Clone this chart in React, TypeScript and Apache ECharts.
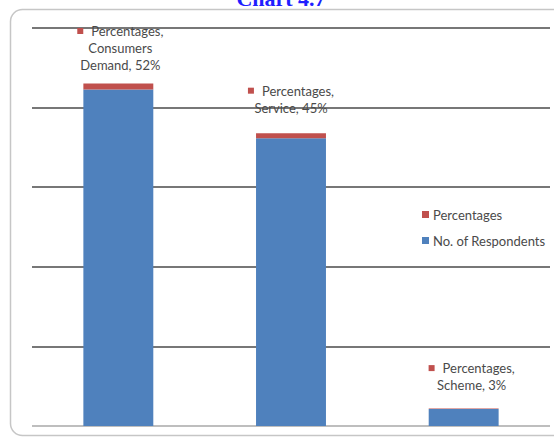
import React, { useEffect, useRef } from "react";
import * as echarts from "echarts";

// Reasons given by respondents, stacked as counts with their share on top
const categories = ["Consumers Demand", "Service", "Scheme"];
const respondents = [29.6, 25.3, 1.5];
const percentages = [0.52, 0.45, 0.03];
const seriesNames = ["No. of Respondents", "Percentages"];
const yMin = 0;
const yMax = 35;
const yStep = 7;

const BLUE = "#4f81bd";
const RED = "#c0504d";
const TEXT = "#4a4a4a";
const FONT = "Lato, 'Liberation Sans', sans-serif";

// per-bar gap between the data label and the top of its stack
const labelDistance = [10, 17, 15];
const labelOffset = [[2, 0], [0, 0], [8, 0]];

export default function App() {
  const ref = useRef<HTMLDivElement>(null);

  useEffect(() => {
    if (!ref.current) return;
    const chart = echarts.init(ref.current, null, { renderer: "svg" });

    const pctLabel = (p: any) => {
      const pct = Math.round(p.value * 100) + "%";
      const nameLines = String(p.name).split(" ");
      const last = nameLines.pop() + ", " + pct;
      const lines = [...nameLines, last].map((l) => `{t|${l}}`);
      return [`{sq|}{p|${p.seriesName},}`, ...lines].join("\n");
    };

    chart.setOption({
      animation: false,
      backgroundColor: "#ffffff",
      textStyle: { fontFamily: FONT },
      graphic: [
        {
          type: "rect",
          z: -10,
          shape: { x: 10.5, y: 9.5, width: 570, height: 426, r: 12 },
          style: { fill: "none", stroke: "#c6c6c6", lineWidth: 1.5 },
        },
        {
          type: "text",
          x: 281,
          y: 9,
          style: {
            text: "Chart 4.7",
            font: "bold 22px 'Liberation Serif', serif",
            fill: "#1f1fff",
            textAlign: "center",
            textVerticalAlign: "bottom",
          },
        },
      ],
      legend: {
        orient: "vertical",
        left: 417,
        top: 203,
        itemWidth: 7,
        itemHeight: 7,
        itemGap: 13,
        icon: "rect",
        data: [seriesNames[1], seriesNames[0]],
        textStyle: { color: TEXT, fontSize: 13, fontFamily: FONT, padding: [0, 0, 0, -1] },
      },
      grid: { left: 32, right: 4, top: 28, bottom: 14 },
      xAxis: {
        type: "category",
        data: categories,
        axisLine: { show: false },
        axisTick: { show: false },
        axisLabel: { show: false },
      },
      yAxis: {
        type: "value",
        min: yMin,
        max: yMax,
        interval: yStep,
        axisLine: { show: false },
        axisTick: { show: false },
        axisLabel: { show: false },
        splitLine: {
          lineStyle: {
            color: ["#a8a8a8", "#4a4a4a", "#4a4a4a", "#4a4a4a", "#4a4a4a", "#4a4a4a"],
            width: 1.5,
          },
        },
      },
      series: [
        {
          name: seriesNames[0],
          type: "bar",
          stack: "total",
          barCategoryGap: "59.5%",
          itemStyle: { color: BLUE },
          data: respondents,
        },
        {
          name: seriesNames[1],
          type: "bar",
          stack: "total",
          itemStyle: { color: RED },
          data: percentages.map((v, i) => ({
            value: v,
            label: { distance: labelDistance[i], offset: labelOffset[i] },
          })),
          label: {
            show: true,
            position: "top",
            align: "center",
            formatter: pctLabel,
            lineHeight: 17,
            rich: {
              sq: { width: 6, height: 6, backgroundColor: RED, verticalAlign: "middle" },
              p: { color: TEXT, fontSize: 13, fontFamily: FONT, padding: [0, 0, 0, 8], lineHeight: 17 },
              t: { color: TEXT, fontSize: 13, fontFamily: FONT, lineHeight: 17 },
            },
          },
        },
      ],
    });

    return () => chart.dispose();
  }, []);

  return (
    <div
      ref={ref}
      style={{ position: "fixed", left: 0, top: 0, width: 554, height: 440 }}
    />
  );
}
